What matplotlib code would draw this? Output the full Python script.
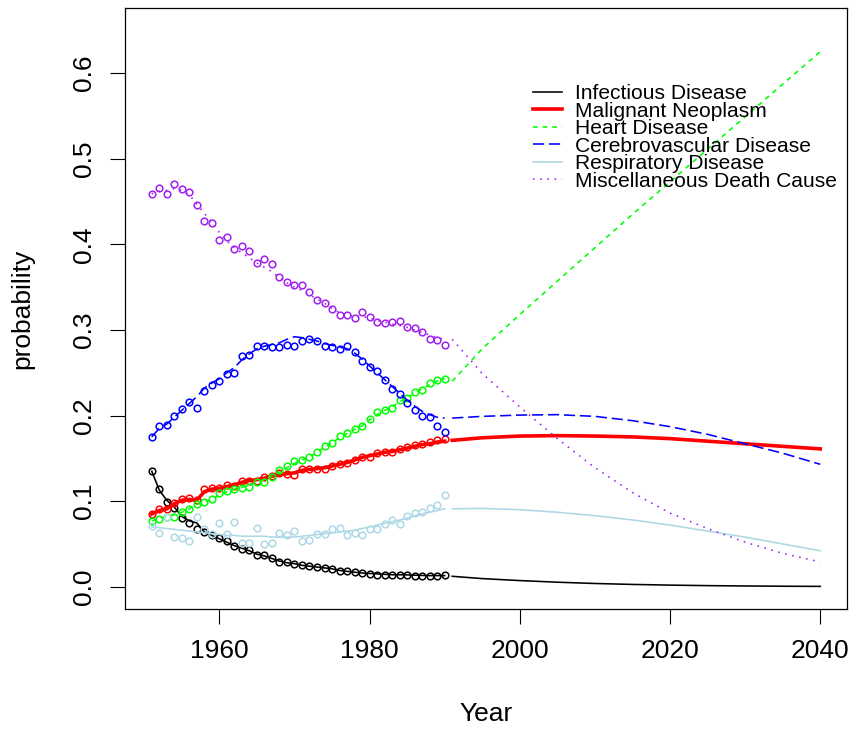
import numpy as np
import matplotlib

matplotlib.use("Agg")
import matplotlib.pyplot as plt

plt.rcParams['font.family'] = ['Liberation Sans', 'DejaVu Sans']

# observed years and forecast years
years = list(range(1951, 1991))
fc_years = [1991, 1995, 2000, 2005, 2010, 2015, 2020, 2025, 2030, 2035, 2040]

# observed proportions (circles)
infectious_obs = [0.135, 0.114, 0.099, 0.092, 0.080, 0.075, 0.067, 0.064, 0.061, 0.057,
                  0.053, 0.048, 0.044, 0.043, 0.037, 0.037, 0.033, 0.029, 0.029, 0.027,
                  0.025, 0.024, 0.023, 0.022, 0.021, 0.018, 0.018, 0.017, 0.016, 0.015,
                  0.014, 0.014, 0.014, 0.014, 0.014, 0.013, 0.013, 0.013, 0.013, 0.014]
neoplasm_obs = [0.085, 0.091, 0.091, 0.098, 0.103, 0.104, 0.101, 0.114, 0.115, 0.115,
                0.119, 0.118, 0.124, 0.124, 0.123, 0.128, 0.129, 0.133, 0.132, 0.130,
                0.137, 0.138, 0.137, 0.138, 0.141, 0.143, 0.145, 0.148, 0.152, 0.152,
                0.156, 0.157, 0.157, 0.161, 0.163, 0.165, 0.167, 0.169, 0.171, 0.173]
heart_obs = [0.077, 0.079, 0.082, 0.082, 0.087, 0.091, 0.097, 0.099, 0.103, 0.109,
             0.112, 0.114, 0.115, 0.116, 0.122, 0.122, 0.128, 0.136, 0.141, 0.147,
             0.148, 0.152, 0.157, 0.164, 0.168, 0.176, 0.180, 0.184, 0.188, 0.196,
             0.204, 0.207, 0.209, 0.218, 0.221, 0.227, 0.230, 0.238, 0.241, 0.243]
cerebro_obs = [0.175, 0.188, 0.189, 0.199, 0.208, 0.216, 0.209, 0.229, 0.236, 0.240,
               0.249, 0.250, 0.269, 0.271, 0.281, 0.281, 0.280, 0.280, 0.282, 0.281,
               0.287, 0.289, 0.287, 0.281, 0.280, 0.278, 0.281, 0.274, 0.264, 0.257,
               0.252, 0.241, 0.231, 0.225, 0.215, 0.207, 0.200, 0.198, 0.188, 0.181]
respiratory_obs = [0.071, 0.063, 0.082, 0.058, 0.057, 0.054, 0.082, 0.067, 0.062, 0.074,
                   0.062, 0.076, 0.051, 0.051, 0.069, 0.050, 0.051, 0.063, 0.060, 0.065,
                   0.054, 0.055, 0.062, 0.062, 0.067, 0.069, 0.060, 0.063, 0.060, 0.067,
                   0.067, 0.073, 0.078, 0.073, 0.083, 0.086, 0.087, 0.092, 0.096, 0.107]
misc_obs = [0.459, 0.466, 0.459, 0.471, 0.465, 0.461, 0.446, 0.427, 0.425, 0.405,
            0.409, 0.394, 0.398, 0.392, 0.378, 0.383, 0.377, 0.362, 0.356, 0.352,
            0.352, 0.344, 0.335, 0.332, 0.324, 0.317, 0.317, 0.314, 0.321, 0.315,
            0.309, 0.308, 0.309, 0.310, 0.303, 0.302, 0.298, 0.289, 0.288, 0.282]

# fitted curves over the observed period
infectious_fit = [0.135, 0.113, 0.101, 0.093, 0.082, 0.077, 0.0745, 0.064, 0.060, 0.056,
                  0.052, 0.048, 0.045, 0.042, 0.038, 0.036, 0.033, 0.030, 0.028, 0.027,
                  0.025, 0.024, 0.023, 0.022, 0.021, 0.019, 0.018, 0.017, 0.016, 0.0155,
                  0.015, 0.0145, 0.014, 0.014, 0.0138, 0.0135, 0.0132, 0.013, 0.013, 0.013]
neoplasm_fit = [0.085, 0.089, 0.091, 0.097, 0.101, 0.102, 0.101, 0.111, 0.114, 0.115,
                0.117, 0.119, 0.122, 0.124, 0.125, 0.127, 0.129, 0.131, 0.132, 0.133,
                0.136, 0.137, 0.138, 0.139, 0.141, 0.143, 0.145, 0.148, 0.151, 0.153,
                0.155, 0.157, 0.158, 0.160, 0.162, 0.164, 0.166, 0.167, 0.169, 0.170]
heart_fit = [0.077, 0.080, 0.082, 0.084, 0.087, 0.091, 0.096, 0.099, 0.102, 0.107,
             0.111, 0.114, 0.116, 0.119, 0.122, 0.125, 0.129, 0.134, 0.139, 0.144,
             0.148, 0.152, 0.157, 0.163, 0.168, 0.174, 0.179, 0.184, 0.188, 0.195,
             0.201, 0.206, 0.210, 0.216, 0.221, 0.226, 0.231, 0.236, 0.240, 0.243]
cerebro_fit = [0.175, 0.185, 0.190, 0.198, 0.206, 0.214, 0.222, 0.232, 0.238, 0.243,
               0.250, 0.256, 0.265, 0.272, 0.278, 0.281, 0.283, 0.285, 0.289, 0.292,
               0.291, 0.289, 0.287, 0.284, 0.282, 0.280, 0.278, 0.273, 0.266, 0.258,
               0.250, 0.242, 0.234, 0.226, 0.218, 0.211, 0.205, 0.201, 0.198, 0.197]
respiratory_fit = [0.070, 0.069, 0.068, 0.067, 0.066, 0.065, 0.064, 0.063, 0.062, 0.061,
                   0.060, 0.060, 0.059, 0.059, 0.059, 0.059, 0.058, 0.058, 0.058, 0.058,
                   0.059, 0.060, 0.061, 0.062, 0.063, 0.064, 0.065, 0.066, 0.068, 0.070,
                   0.072, 0.074, 0.076, 0.078, 0.080, 0.083, 0.085, 0.087, 0.089, 0.091]
misc_fit = [0.459, 0.462, 0.463, 0.465, 0.463, 0.458, 0.447, 0.436, 0.426, 0.414,
            0.404, 0.396, 0.390, 0.384, 0.378, 0.373, 0.368, 0.361, 0.355, 0.350,
            0.346, 0.341, 0.336, 0.331, 0.325, 0.320, 0.317, 0.316, 0.316, 0.314,
            0.311, 0.309, 0.307, 0.305, 0.303, 0.300, 0.297, 0.294, 0.291, 0.289]

# forecasts 1991-2040
infectious_fc = [0.0122, 0.0095, 0.0072, 0.0053, 0.0038, 0.0027, 0.0019, 0.0013, 0.0009, 0.0006, 0.0004]
neoplasm_fc = [0.171, 0.174, 0.176, 0.1765, 0.176, 0.175, 0.173, 0.170, 0.167, 0.164, 0.161]
heart_fc = [0.240, 0.278, 0.318, 0.357, 0.396, 0.435, 0.473, 0.511, 0.549, 0.587, 0.625]
cerebro_fc = [0.197, 0.199, 0.2005, 0.201, 0.199, 0.194, 0.187, 0.178, 0.167, 0.156, 0.143]
respiratory_fc = [0.091, 0.0915, 0.090, 0.087, 0.083, 0.078, 0.072, 0.065, 0.058, 0.050, 0.042]
misc_fc = [0.289, 0.249, 0.210, 0.173, 0.139, 0.110, 0.086, 0.068, 0.052, 0.039, 0.029]

labels = ["Infectious Disease", "Malignant Neoplasm", "Heart Disease",
          "Cerebrovascular Disease", "Respiratory Disease", "Miscellaneous Death Cause"]
colors = ["black", "red", "#00FF00", "#0000FF", "#ADD8E6", "#A020F0"]
widths = [1.15, 2.6, 1.15, 1.15, 1.15, 1.15]
dash_styles = [None, None, (3, 3), (7, 3), None, (1, 3.5)]

obs = [infectious_obs, neoplasm_obs, heart_obs, cerebro_obs, respiratory_obs, misc_obs]
fits = [infectious_fit, neoplasm_fit, heart_fit, cerebro_fit, respiratory_fit, misc_fit]
fcs = [infectious_fc, neoplasm_fc, heart_fc, cerebro_fc, respiratory_fc, misc_fc]

fig = plt.figure(figsize=(8.56, 7.31), dpi=100)
ax = fig.add_axes([125 / 856, 1 - 609 / 731, 722 / 856, 601 / 731])

handles = []
for i in range(len(labels)):
    kw = dict(color=colors[i], lw=widths[i])
    if dash_styles[i] is not None:
        kw['dashes'] = dash_styles[i]
    line, = ax.plot(years, fits[i], **kw)
    ax.plot(fc_years, fcs[i], **kw)
    ax.plot(years, obs[i], 'o', mfc='none', mec=colors[i], ms=4.8, mew=1.1)
    handles.append(line)

ax.set_xlim(1947.44, 2043.56)
ax.set_ylim(-0.026, 0.676)
ax.set_xticks([1960, 1980, 2000, 2020, 2040])
ax.set_yticks([0.0, 0.1, 0.2, 0.3, 0.4, 0.5, 0.6])
ax.set_yticklabels(["0.0", "0.1", "0.2", "0.3", "0.4", "0.5", "0.6"])
ax.tick_params(axis='both', direction='out', length=10.8, width=0.8, labelsize=19, pad=11)
ax.tick_params(axis='y', pad=10.3)
for lab in ax.get_yticklabels():
    lab.set_rotation(90)
    lab.set_va('center')
for sp in ax.spines.values():
    sp.set_linewidth(0.9)

ax.set_xlabel("Year", fontsize=19, va='center')
ax.xaxis.set_label_coords(0.5, -0.174)
ax.set_ylabel("probability", fontsize=19, va='center')
ax.yaxis.set_label_coords(-0.1427, 0.5)

# legend without a box, rows packed tight like in R
leg = ax.legend(handles, labels, loc='upper left', bbox_to_anchor=((533 - 125) / 722, (609 - 84) / 601),
                frameon=False, fontsize=15.1, borderpad=0, borderaxespad=0,
                handlelength=1.38, handletextpad=0.6, labelspacing=-0.07)

fig.savefig("out.png", dpi=100)
